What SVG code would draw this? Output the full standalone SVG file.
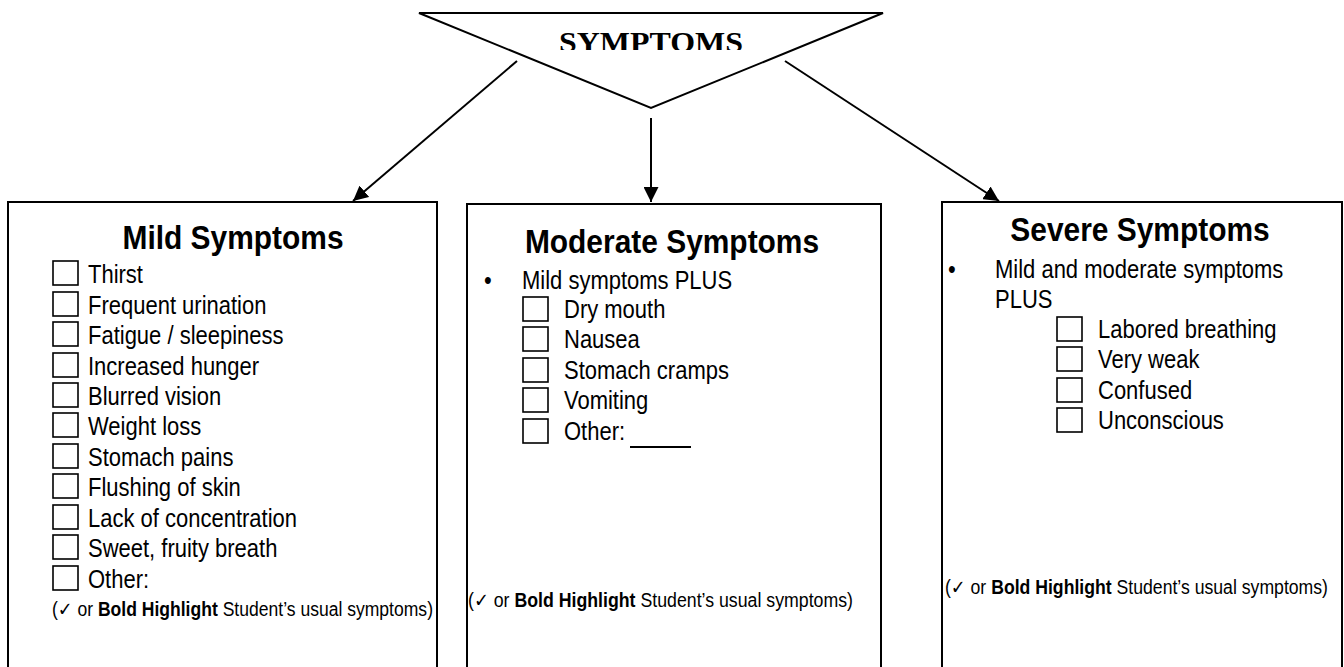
<svg xmlns="http://www.w3.org/2000/svg" width="1344" height="667" viewBox="0 0 1344 667">
<style>
.box{fill:#fff;stroke:#000;stroke-width:2}
.cb{fill:none;stroke:#000;stroke-width:1.6}
.t{font-family:"Liberation Sans",Arial,sans-serif;font-size:25px;fill:#000}
.h{font-family:"Liberation Sans",Arial,sans-serif;font-size:34px;font-weight:bold;fill:#000;text-anchor:middle}
.fn{font-family:"Liberation Sans","DejaVu Sans",Arial,sans-serif;font-size:19.5px;fill:#000}
.b{font-weight:bold}
.con{stroke:#000;stroke-width:2;fill:none}
</style>
<defs>
<marker id="ah" viewBox="0 0 10 10" refX="10" refY="5" markerWidth="7.5" markerHeight="7.5" orient="auto" markerUnits="strokeWidth">
<path d="M0,0 L10,5 L0,10 z" fill="#000"/>
</marker>
<clipPath id="clipTitle"><rect x="400" y="0" width="500" height="50"/></clipPath>
</defs>
<rect width="1344" height="667" fill="#fff"/>

<g id="symptoms">
<polygon points="419,13 883,13 651,108" fill="#fff" stroke="#000" stroke-width="2"/>
<text x="651" y="52" clip-path="url(#clipTitle)" text-anchor="middle" font-family="'Liberation Serif','Times New Roman',serif" font-weight="bold" font-size="30" textLength="184" lengthAdjust="spacingAndGlyphs">SYMPTOMS</text>
</g>

<g id="connectors">
<line class="con" x1="517" y1="61" x2="353" y2="201" marker-end="url(#ah)"/>
<line class="con" x1="651" y1="118" x2="651" y2="202" marker-end="url(#ah)"/>
<line class="con" x1="785" y1="61" x2="999" y2="201" marker-end="url(#ah)"/>
</g>

<g id="mild">
<rect class="box" x="8" y="202" width="429" height="470"/>
<text class="h" transform="translate(233,249) scale(0.88,1)">Mild Symptoms</text>
<rect class="cb" x="53" y="261" width="25" height="24"/>
<rect class="cb" x="53" y="292" width="25" height="24"/>
<rect class="cb" x="53" y="322" width="25" height="24"/>
<rect class="cb" x="53" y="353" width="25" height="24"/>
<rect class="cb" x="53" y="383" width="25" height="24"/>
<rect class="cb" x="53" y="413" width="25" height="24"/>
<rect class="cb" x="53" y="444" width="25" height="24"/>
<rect class="cb" x="53" y="474" width="25" height="24"/>
<rect class="cb" x="53" y="505" width="25" height="24"/>
<rect class="cb" x="53" y="535" width="25" height="24"/>
<rect class="cb" x="53" y="566" width="25" height="24"/>
<text class="t" transform="translate(88,283) scale(0.88,1)">Thirst</text>
<text class="t" transform="translate(88,314) scale(0.88,1)">Frequent urination</text>
<text class="t" transform="translate(88,344) scale(0.88,1)">Fatigue / sleepiness</text>
<text class="t" transform="translate(88,375) scale(0.88,1)">Increased hunger</text>
<text class="t" transform="translate(88,405) scale(0.88,1)">Blurred vision</text>
<text class="t" transform="translate(88,435) scale(0.88,1)">Weight loss</text>
<text class="t" transform="translate(88,466) scale(0.88,1)">Stomach pains</text>
<text class="t" transform="translate(88,496) scale(0.88,1)">Flushing of skin</text>
<text class="t" transform="translate(88,527) scale(0.88,1)">Lack of concentration</text>
<text class="t" transform="translate(88,557) scale(0.88,1)">Sweet, fruity breath</text>
<text class="t" transform="translate(88,588) scale(0.88,1)">Other:</text>
<text class="fn" x="52" y="616" textLength="381" lengthAdjust="spacingAndGlyphs">(✓ or <tspan class="b">Bold Highlight</tspan> Student’s usual symptoms)</text>
</g>

<g id="moderate">
<rect class="box" x="467" y="204" width="414" height="470"/>
<text class="h" transform="translate(672,253) scale(0.88,1)">Moderate Symptoms</text>
<text class="t" transform="translate(484,289) scale(0.88,1)">•</text>
<text class="t" transform="translate(522,289) scale(0.88,1)">Mild symptoms PLUS</text>
<rect class="cb" x="523" y="297" width="25" height="24"/>
<rect class="cb" x="523" y="327" width="25" height="24"/>
<rect class="cb" x="523" y="358" width="25" height="24"/>
<rect class="cb" x="523" y="388" width="25" height="24"/>
<rect class="cb" x="523" y="419" width="25" height="24"/>
<text class="t" transform="translate(564,318) scale(0.88,1)">Dry mouth</text>
<text class="t" transform="translate(564,348) scale(0.88,1)">Nausea</text>
<text class="t" transform="translate(564,379) scale(0.88,1)">Stomach cramps</text>
<text class="t" transform="translate(564,409) scale(0.88,1)">Vomiting</text>
<text class="t" transform="translate(564,440) scale(0.88,1)">Other:</text>
<line x1="630" y1="447" x2="691" y2="447" stroke="#000" stroke-width="2"/>
<text class="fn" x="468" y="607" textLength="385" lengthAdjust="spacingAndGlyphs">(✓ or <tspan class="b">Bold Highlight</tspan> Student’s usual symptoms)</text>
</g>

<g id="severe">
<rect class="box" x="942" y="202" width="400" height="470"/>
<text class="h" transform="translate(1140,241) scale(0.88,1)">Severe Symptoms</text>
<text class="t" transform="translate(948,278) scale(0.88,1)">•</text>
<text class="t" transform="translate(995,278) scale(0.88,1)">Mild and moderate symptoms</text>
<text class="t" transform="translate(995,308) scale(0.88,1)">PLUS</text>
<rect class="cb" x="1057" y="317" width="25" height="24"/>
<rect class="cb" x="1057" y="347" width="25" height="24"/>
<rect class="cb" x="1057" y="378" width="25" height="24"/>
<rect class="cb" x="1057" y="408" width="25" height="24"/>
<text class="t" transform="translate(1098,338) scale(0.88,1)">Labored breathing</text>
<text class="t" transform="translate(1098,368) scale(0.88,1)">Very weak</text>
<text class="t" transform="translate(1098,399) scale(0.88,1)">Confused</text>
<text class="t" transform="translate(1098,429) scale(0.88,1)">Unconscious</text>
<text class="fn" x="945" y="594" textLength="383" lengthAdjust="spacingAndGlyphs">(✓ or <tspan class="b">Bold Highlight</tspan> Student’s usual symptoms)</text>
</g>
</svg>
